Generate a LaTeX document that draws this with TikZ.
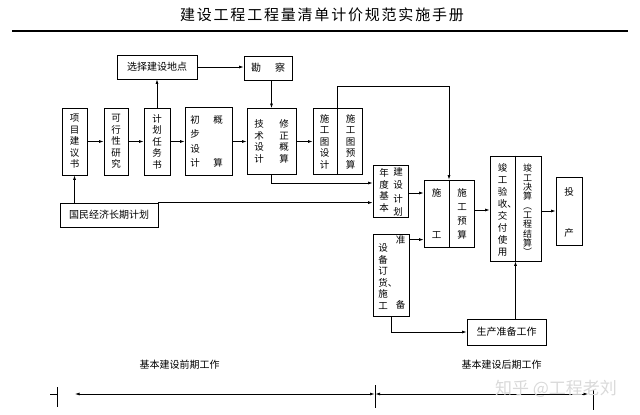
\documentclass[tikz,border=0pt]{standalone}
\usepackage{fontspec}
\usepackage{tikz}
\usetikzlibrary{positioning,arrows.meta}
\newfontfamily\cjk{Noto Sans CJK SC}
\newfontfamily\cjktitle[LetterSpace=12]{Noto Sans CJK SC}
\tikzstyle{boxed} = [rectangle, draw=black, line width=0.8pt, inner sep=0pt]
\tikzstyle{vtext} = [align=center, inner sep=0pt, font=\cjk\fontsize{9.5}{11.5}\selectfont]
\tikzstyle{htext} = [inner sep=0pt, font=\cjk\fontsize{10}{12}\selectfont]
\tikzstyle{connect} = [line width=0.7pt,-{Latex[length=4.5pt,width=3pt]}]
\tikzstyle{dimline} = [line width=0.7pt,{Latex[length=4.5pt,width=3pt]}-{Latex[length=4.5pt,width=3pt]}]

\begin{document}
\begin{tikzpicture}[x=1pt,y=-1pt]
	\useasboundingbox (0,0) rectangle (640,415);
	\node (judul) at (322,15) [font=\cjktitle\fontsize{15}{16}\selectfont] {建设工程工程量清单计价规范实施手册};
	\draw [line width=2pt] (12,31) -- (628,31);

	% kotak kiri
	\node (xmjy) at (74.5,141.5) [boxed,vtext,minimum width=25pt,minimum height=67pt] {项\\目\\建\\议\\书};
	\node (kxx) at (116,141.5) [boxed,vtext,minimum width=24pt,minimum height=67pt] {可\\行\\性\\研\\究};
	\node (jhrw) at (157,141.5) [boxed,vtext,minimum width=26pt,minimum height=67pt] {计\\划\\任\\务\\书};
	\node (cbsj) at (208.5,141.5) [boxed,minimum width=47pt,minimum height=68pt] {};
	\node (cbsjl) at (195,141.5) [vtext] {初\\[3pt]步\\[3pt]设\\[3pt]计};
	\node (cbsjr) at (218,141.5) [vtext] {概\\[31pt]算};
	\node (xzdd) at (157,67) [boxed,htext,minimum width=80pt,minimum height=24pt] {选择建设地点};
	\node (kc) at (268,68) [boxed,htext,minimum width=48pt,minimum height=24pt] {勘\hspace{14pt}察};
	\node (gmjj) at (109,215) [boxed,htext,minimum width=98pt,minimum height=24pt] {国民经济长期计划};

	% kotak tengah
	\node (jssj) at (271.5,141.5) [boxed,minimum width=49pt,minimum height=66pt] {};
	\node (jssjl) at (259,141.5) [vtext] {技\\术\\设\\计};
	\node (jssjr) at (284,141.5) [vtext] {修\\正\\概\\算};
	\node (sgt) at (337.5,141.5) [boxed,minimum width=49pt,minimum height=66pt] {};
	\node (sgtl) at (324.5,141.5) [vtext] {施\\工\\图\\设\\计};
	\node (sgtr) at (350.5,141.5) [vtext] {施\\工\\图\\预\\算};
	\draw [line width=0.8pt] (sgt.north) -- (sgt.south);
	\node (ndjh) at (390.5,191) [boxed,minimum width=35pt,minimum height=52pt] {};
	\node (ndjhl) at (384,190.5) [vtext] {年\\度\\基\\本};
	\node (ndjhr) at (398,192) [vtext] {建\\[2pt]设\\[2pt]计\\[2pt]划};
	\node (sbdh) at (391,275) [boxed,minimum width=36pt,minimum height=82pt] {};
	\node (sbdhl) at (383,276.5) [vtext] {设\\备\\订\\货\rlap{、}\\施\\工};
	\node (sbdhz) at (400.5,240) [vtext] {准};
	\node (sbdhb) at (400.5,305) [vtext] {备};

	% kotak kanan
	\node (sg) at (449,213.5) [boxed,minimum width=50pt,minimum height=67pt] {};
	\draw [line width=0.8pt] (sg.north) -- (sg.south);
	\node (sgl) at (436.5,214) [vtext] {施\\[30.5pt]工};
	\node (sgr) at (462,214) [vtext] {施\\[2.5pt]工\\[2.5pt]预\\[2.5pt]算};
	\node (jg) at (515.5,208.5) [boxed,minimum width=51pt,minimum height=105pt] {};
	\draw [line width=0.8pt] (jg.north) -- (jg.south);
	\node (jgl) at (502.5,210) [vtext,font=\cjk\fontsize{9.5}{12}\selectfont] {竣\\工\\验\\收\rlap{、}\\交\\付\\使\\用};
	\node (jgr) at (527.5,210) [vtext,font=\cjk\fontsize{9}{9.3}\selectfont] {竣\\工\\决\\算\\︵\\工\\程\\结\\算\\︶};
	\node (tc) at (569,211) [boxed,minimum width=26pt,minimum height=68pt] {};
	\node (tct) at (569,212.5) [vtext] {投\\[29.5pt]产};
	\node (sczb) at (506.5,332) [boxed,htext,minimum width=79pt,minimum height=26pt] {生产准备工作};

	% panah
	\draw [connect] (xmjy) -- (kxx);
	\draw [connect] (kxx) -- (jhrw);
	\draw [connect] (jhrw) -- (cbsj);
	\draw [connect] (cbsj) -- (jssj);
	\draw [connect] (jssj) -- (sgt);
	\draw [connect] (jhrw) -- (xzdd);
	\draw [connect] (xzdd) -- (kc.west |- xzdd);
	\draw [connect] (jssj.north |- kc.south) -- (jssj.north);
	\draw [connect] (jssj.south) |- ([yshift=8pt]ndjh.west);
	\draw [connect] (gmjj.north east) -- (gmjj.north east -| ndjh.west);
	\draw [connect] (gmjj.north -| xmjy.south) -- (xmjy.south);
	\draw [connect] (sgt.north) -- ++(0,-22) -| (sg.north);
	\draw [connect] ([yshift=-2pt]ndjh.east) -- ([yshift=-2pt]ndjh.east -| sg.west);
	\draw [connect] ([yshift=-6pt]sbdh.north east) -- ([yshift=-6pt]sbdh.north east -| sg.west);
	\draw [connect] ([yshift=3.5pt]sg.east) -- ([yshift=3.5pt]sg.east -| jg.west);
	\draw [connect] (tc.west -| jg.east) -- (tc.west);
	\draw [connect] (sbdh.south) |- (sczb.west);
	\draw [connect] (sczb.north -| jg.south) -- (jg.south);

	% garis waktu
	\node (qianqi) at (179.5,365) [htext] {基本建设前期工作};
	\node (houqi) at (501.5,365) [htext] {基本建设后期工作};
	\coordinate (t1) at (57,394);
	\coordinate (t2) at (375,394);
	\coordinate (t3) at (593,394);
	\draw [line width=0.7pt] ([xshift=-7pt]t1) -- (t1) ([yshift=7pt]t1) -- ([yshift=-13pt]t1);
	\draw [line width=0.7pt] ([yshift=9pt]t2) -- ([yshift=-14pt]t2);
	\draw [line width=0.7pt] ([yshift=4pt]t3) -- ([yshift=-16pt]t3);
	\draw [dimline] ([xshift=18pt]t1) -- ([xshift=-0.5pt]t2);
	\draw [dimline] ([xshift=0.5pt]t2) -- ([xshift=-5pt]t3);
	\node (wm) at (556,389) [text=gray!30, font=\cjk\fontsize{17}{18}\selectfont] {知乎 @工程老刘};
\end{tikzpicture}
\end{document}
